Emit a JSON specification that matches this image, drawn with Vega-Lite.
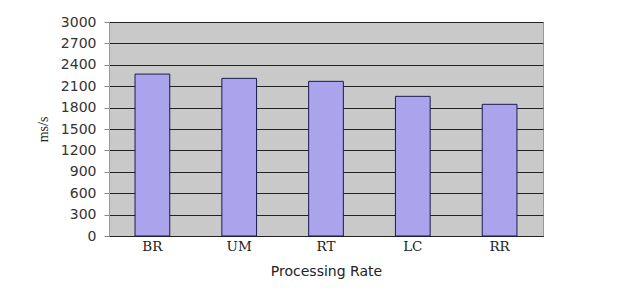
{
  "$schema": "https://vega.github.io/schema/vega-lite/v6.json",
  "width": 434,
  "height": 214,
  "autosize": "none",
  "padding": {"left": 109, "top": 22, "right": 80, "bottom": 53},
  "background": "#ffffff",
  "data": {"values": [
    {"method": "BR", "rate": 2270},
    {"method": "UM", "rate": 2210},
    {"method": "RT", "rate": 2168},
    {"method": "LC", "rate": 1958},
    {"method": "RR", "rate": 1846}
  ]},
  "mark": {"type": "bar", "color": "#aba4ec", "stroke": "#1b1b4d", "strokeWidth": 1},
  "encoding": {
    "x": {
      "field": "method", "type": "nominal", "sort": null,
      "scale": {"paddingInner": 0.6, "paddingOuter": 0.3},
      "axis": {
        "title": "Processing Rate", "titleFont": "DejaVu Sans", "titleFontSize": 14, "titleFontWeight": "normal", "titleColor": "#222222", "titlePadding": 12,
        "labelFont": "DejaVu Serif", "labelFontSize": 13.5, "labelColor": "#222222", "labelAngle": 0, "labelPadding": 3,
        "ticks": false, "domainColor": "#222222", "domainWidth": 1
      }
    },
    "y": {
      "field": "rate", "type": "quantitative",
      "scale": {"domain": [0, 3000], "nice": false},
      "axis": {
        "title": "ms/s", "titleFont": "Liberation Serif", "titleFontSize": 14, "titleFontWeight": "normal", "titleColor": "#222222", "titlePadding": 10,
        "values": [0, 300, 600, 900, 1200, 1500, 1800, 2100, 2400, 2700, 3000],
        "format": "d",
        "labelFont": "DejaVu Sans", "labelFontSize": 14, "labelColor": "#333333", "labelPadding": 8,
        "tickColor": "#888888", "tickSize": 5,
        "grid": true, "gridColor": "#222222", "gridWidth": 1,
        "domainColor": "#999999"
      }
    }
  },
  "config": {
    "view": {"fill": "#c9c9c9", "stroke": "#999999", "strokeWidth": 1}
  }
}
